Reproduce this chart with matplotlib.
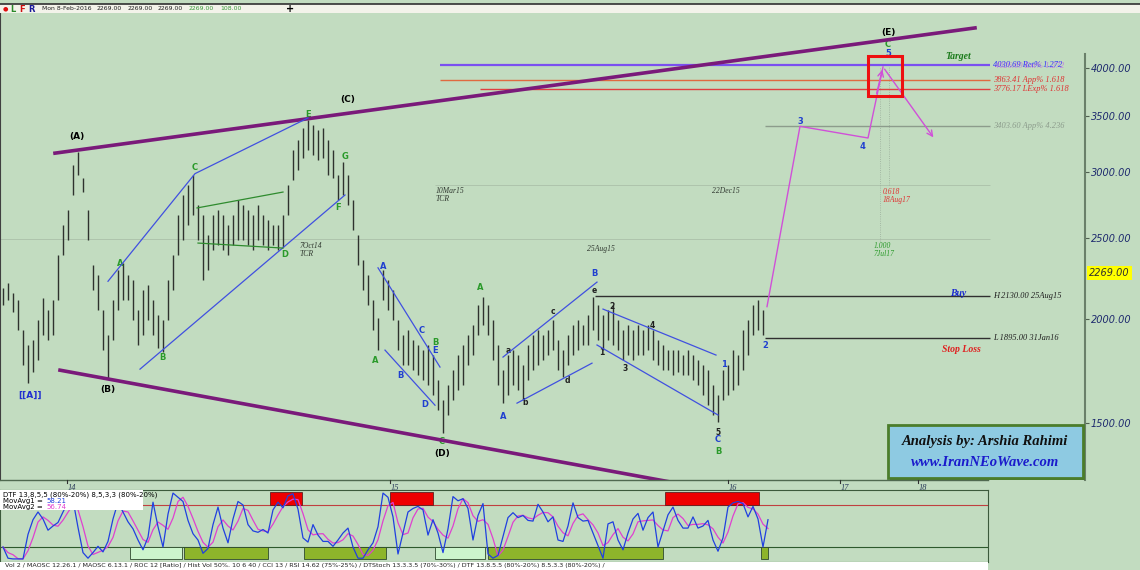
import numpy as np
import pandas as pd
import matplotlib
matplotlib.use('Agg')
import matplotlib.pyplot as plt
from matplotlib.patches import Rectangle
from matplotlib.lines import Line2D
from matplotlib.ticker import NullLocator

# DAILY BARS (high / low), oldest first
highs = [2177, 2207, 2150, 2106, 1938, 1860, 1885, 1993, 2118, 2048,
         2106, 2385, 2591, 2700, 3058, 3170, 2950, 2700, 2320, 2256,
         2048, 1912, 2106, 2288, 2332, 2256, 2225, 2048, 2165, 2195,
         2106, 2020, 1993, 2225, 2385, 2663, 2815, 2894, 2975, 2738,
         2663, 2520, 2663, 2700, 2663, 2591, 2663, 2776, 2738, 2700,
         2663, 2738, 2663, 2627, 2591, 2591, 2663, 2894, 3188, 3277,
         3387, 3463, 3416, 3369, 3387, 3277, 3188, 2975, 3084, 2975,
         2776, 2520, 2352, 2256, 2106, 2003, 2288, 2225, 2165, 1993,
         1912, 1938, 1885, 1860, 1834, 1860, 1809, 1688, 1597, 1665,
         1735, 1809, 1860, 1912, 1965, 2077, 2123, 2077, 1993, 1860,
         1735, 1809, 1834, 1809, 1760, 1860, 1912, 1938, 1912, 1938,
         1993, 1885, 1834, 1912, 1965, 1993, 1965, 2020, 2123, 2077,
         2020, 2048, 2077, 1993, 1938, 1965, 1938, 1965, 1938, 1965,
         1938, 1885, 1860, 1834, 1834, 1834, 1809, 1834, 1809, 1784,
         1760, 1735, 1665, 1620, 1735, 1760, 1834, 1809, 1938, 1993,
         2077, 2106, 2048, 2269]
lows = [2077, 2106, 2037, 1938, 1760, 1674, 1726, 1784, 1912, 1885,
        1912, 2106, 2385, 2486, 2815, 2975, 2838, 2486, 2165, 2048,
        1834, 1697, 1885, 2048, 2106, 2106, 1993, 1860, 1912, 1993,
        1912, 1844, 1824, 1993, 2165, 2385, 2486, 2591, 2663, 2486,
        2225, 2288, 2418, 2452, 2418, 2385, 2452, 2486, 2486, 2452,
        2418, 2486, 2452, 2418, 2452, 2418, 2438, 2663, 2934, 3016,
        3118, 3188, 3144, 3101, 3118, 2975, 2950, 2776, 2815, 2738,
        2555, 2320, 2165, 2077, 1938, 1834, 2106, 2048, 1993, 1834,
        1760, 1760, 1735, 1712, 1688, 1665, 1620, 1554, 1458, 1533,
        1597, 1642, 1665, 1760, 1809, 1912, 1965, 1912, 1784, 1665,
        1584, 1620, 1665, 1642, 1597, 1688, 1735, 1760, 1784, 1809,
        1834, 1735, 1702, 1760, 1809, 1834, 1860, 1860, 1938, 1885,
        1834, 1885, 1860, 1834, 1784, 1809, 1784, 1809, 1809, 1834,
        1784, 1760, 1735, 1735, 1712, 1726, 1712, 1712, 1688, 1665,
        1620, 1575, 1533, 1503, 1597, 1620, 1642, 1665, 1735, 1809,
        1912, 1938, 1912, 2269]

# DTF oscillator (blue line), one value per bar
osc = [20, 4, 3, 3, 3, 38, 59, 70, 60, 44,
       50, 55, 70, 84, 87, 48, 12, 4, 12, 21,
       13, 28, 60, 84, 70, 56, 46, 30, 16, 34,
       84, 49, 20, 67, 97, 91, 85, 58, 39, 30,
       11, 18, 52, 77, 47, 26, 60, 85, 80, 52,
       43, 41, 45, 40, 73, 84, 76, 93, 96, 74,
       33, 27, 52, 37, 28, 28, 21, 30, 40, 47,
       20, 4, 4, 16, 26, 49, 97, 91, 63, 10,
       40, 70, 75, 78, 73, 37, 59, 40, 12, 46,
       92, 86, 89, 75, 30, 65, 82, 10, 4, 8,
       35, 62, 69, 62, 65, 58, 57, 81, 70, 56,
       63, 30, 28, 50, 83, 62, 57, 58, 40, 22,
       4, 53, 56, 30, 16, 40, 60, 68, 44, 62,
       70, 20, 43, 66, 77, 58, 47, 47, 63, 47,
       50, 58, 30, 14, 33, 77, 83, 85, 82, 63,
       78, 60, 20, 59]

# overbought / oversold zones of the oscillator: (start, end)
red_zones = [(67, 127), (270, 302), (390, 433), (665, 759)]
red_tops = [88.6, 98.6, 98.6, 98.6]
green_zones = [(130, 182), (184, 268), (304, 386), (435, 485), (488, 663), (761, 768)]
green_colors = ['#ccf5cc', '#8db52b', '#8db52b', '#ccf5cc', '#8db52b', '#8db52b']

# wave drawings
upper_tl_x, upper_tl_y = [55, 975], [3160, 4466]
lower_tl_x, lower_tl_y = [60, 700], [1735, 1255]
blue_lines = [([108, 195, 308], [2218, 2986, 3483]),
              ([140, 345], [1740, 2815]),
              ([378, 440], [2302, 1750]),
              ([385, 435], [1834, 1575]),
              ([503, 597], [1799, 2213]),
              ([517, 592], [1584, 1769]),
              ([603, 716], [2054, 1809]),
              ([597, 718], [1860, 1533])]
green_lines = [([197, 283], [2716, 2838]),
               ([198, 283], [2465, 2431])]
proj_x = [767, 800, 868, 883]
proj_y = [2068, 3403, 3295, 4010]
proj_end = (935, 3280)

# price levels: (price, x start, line colour, label, text colour)
levels = [(3863.41, 440, '#e06a40', '3863.41 App% 1.618', '#e03030'),
          (3776.17, 480, '#e04040', '3776.17 LExp% 1.618', '#e03030'),
          (3403.60, 765, '#8c9c8c', '3403.60 App% 4.236', '#8c9c8c'),
          (2130.00, 595, '#303030', 'H 2130.00 25Aug15', '#202020'),
          (1895.00, 765, '#303030', 'L 1895.00 31Jan16', '#202020')]

price_ticks = [1500, 2000, 2500, 3000, 3500, 4000]
year_ticks = [67, 390, 728, 840, 918]
year_labels = ['14', '15', '16', '17', '18']
last_price = 2269.00

green_waves = [('A', 120, 2332), ('B', 162, 1799), ('C', 195, 3033), ('D', 285, 2391),
               ('E', 308, 3520), ('F', 338, 2723), ('G', 345, 3135), ('A', 375, 1784),
               ('B', 435, 1875), ('C', 442, 1424), ('A', 480, 2183), ('B', 718, 1385),
               ('C', 888, 4261)]
blue_waves = [('A', 383, 2313), ('B', 400, 1712), ('C', 422, 1938), ('D', 425, 1580),
              ('E', 435, 1834), ('A', 503, 1528), ('B', 594, 2269), ('1', 724, 1764),
              ('C', 718, 1432), ('2', 765, 1860), ('3', 800, 3453), ('4', 862, 3222),
              ('5', 888, 4167)]
black_waves = [('a', 508, 1834), ('b', 525, 1589), ('c', 553, 2043), ('d', 567, 1684),
               ('e', 594, 2165), ('1', 602, 1824), ('2', 612, 2071), ('3', 625, 1745),
               ('4', 652, 1965), ('5', 718, 1462)]
major_waves = [('(A)', 77, 3305, 'black'), ('[[A]]', 30, 1620, '#2030d0'),
               ('(B)', 108, 1647, 'black'), ('(C)', 348, 3660, 'black'),
               ('(D)', 442, 1380, 'black'), ('(E)', 888, 4416, 'black')]
date_notes = [('7Oct14\nTCR', 300, 2470), ('10Mar15\nTCR', 436, 2880),
              ('25Aug15', 587, 2455), ('22Dec15', 712, 2880)]

toolbar_values = ['2269.00', '2269.00', '2269.00', '2269.00', '108.00']
toolbar_x = [97, 128, 158, 189, 220]
toolbar_colors = ['#202020', '#202020', '#202020', '#3a9a3a', '#3a9a3a']

BG = '#c2dcc0'
W, H = 1140, 570


def fy(py):
    return 1 - py / H


fig = plt.figure(figsize=(11.4, 5.7), dpi=100, facecolor=BG)
serif = 'Liberation Serif'

# MAIN PRICE PANEL
ax = fig.add_axes([0, fy(480), 1085 / W, (480 - 13) / H])
ax.set_facecolor(BG)
ax.set_xlim(0, 1085)
ax.set_yscale('log')
ax.set_ylim(1281, 4654)
for s in ['top', 'bottom']:
    ax.spines[s].set_visible(False)
ax.spines['left'].set_color('#404040')
ax.spines['right'].set_color('#6a806a')
ax.spines['right'].set_linewidth(1.5)
ax.spines['right'].set_bounds(1281, 4155)
ax.set_xticks([])
ax.yaxis.tick_right()
ax.set_yticks(price_ticks)
ax.set_yticklabels([f'{t:.2f}' for t in price_ticks])
ax.yaxis.set_minor_locator(NullLocator())
ax.tick_params(axis='y', direction='out', length=3, color='#506050',
               labelsize=7, labelcolor='#1e2a6e', pad=1)
for lab in ax.get_yticklabels():
    lab.set_fontstyle('italic')

bar_x = 3 + 5 * np.arange(len(highs))
ax.vlines(bar_x, lows, highs, color='#2e322e', lw=1.0, zorder=3)

# faint reference lines and fib timings
ax.hlines(2894, 435, 990, color='#aec4ac', lw=0.7, zorder=1)
ax.hlines(2493, 0, 990, color='#aec4ac', lw=0.7, zorder=1)
ax.vlines(880, 2480, 4010, color='#9aac9a', lw=0.6, ls=':', zorder=1)
ax.vlines(889, 2890, 4010, color='#9aac9a', lw=0.6, ls=':', zorder=1)
ax.text(883, 2870, '0.618\n18Aug17', color='#e03030', fontsize=5.5, family=serif,
        style='italic', va='top', linespacing=1.0)
ax.text(874, 2470, '1.000\n7Jul17', color='#2a9a2a', fontsize=5.5, family=serif,
        style='italic', va='top', linespacing=1.0)

# trend lines
ax.plot(upper_tl_x, upper_tl_y, color='#7a1a7a', lw=2.6, zorder=4)
ax.plot(lower_tl_x, lower_tl_y, color='#7a1a7a', lw=2.6, zorder=4)
for xs, ys in blue_lines:
    ax.plot(xs, ys, color='#4050e0', lw=0.9, zorder=4)
for xs, ys in green_lines:
    ax.plot(xs, ys, color='#2e8b2e', lw=0.9, zorder=4)

# levels
ax.hlines(4030.69, 440, 990, color='#7a50f0', lw=1.6, zorder=2)
ax.text(993, 4030.69, '4030.69 Ret% 1.272', color='#3030ff', fontsize=6,
        family=serif, style='italic', va='center')
ax.text(995, 4020, '4026.69 Ext% 1.272', color='#c040f0', fontsize=6,
        family=serif, style='italic', va='center', alpha=0.6)
for price, x0, lc, label, tc in levels:
    ax.hlines(price, x0, 990, color=lc, lw=1.0, zorder=2)
    ax.text(993, price, label, color=tc, fontsize=6, family=serif,
            style='italic', va='center')

ax.text(945, 4122, 'Target', color='#1a7a1a', fontsize=7, family=serif,
        style='italic', weight='bold', va='center')
ax.text(950, 2143, 'Buy', color='#1a2ad0', fontsize=7, family=serif,
        style='italic', weight='bold', va='center')
ax.text(942, 1839, 'Stop Loss', color='#e02020', fontsize=7, family=serif,
        style='italic', weight='bold', va='center')

# projected path
ax.plot(proj_x, proj_y, color='#d050d8', lw=1.0, zorder=5)
ax.annotate('', xy=(proj_x[-1], proj_y[-1]), xytext=(proj_x[-2] + 8, 3700),
            arrowprops=dict(arrowstyle='->', color='#d050d8', lw=1.0), zorder=5)
ax.annotate('', xy=proj_end, xytext=(proj_x[-1], proj_y[-1]),
            arrowprops=dict(arrowstyle='->', color='#d050d8', lw=1.0), zorder=5)
ax.add_patch(Rectangle((868, 3701), 34, 4133 - 3701, fill=False,
                       ec='#ee1010', lw=2.2, zorder=6))

# wave labels
for t, x, y in green_waves:
    ax.text(x, y, t, color='#2a9a2a', fontsize=6, weight='bold', ha='center', va='center')
for t, x, y in blue_waves:
    ax.text(x, y, t, color='#2040d0', fontsize=6, weight='bold', ha='center', va='center')
for t, x, y in black_waves:
    ax.text(x, y, t, color='#202020', fontsize=5.5, weight='bold', ha='center', va='center')
for t, x, y, c in major_waves:
    ax.text(x, y, t, color=c, fontsize=6.5, weight='bold', ha='center', va='center')
for t, x, y in date_notes:
    ax.text(x, y, t, color='#303830', fontsize=5.5, family=serif, style='italic',
            va='top', linespacing=1.0)

# last price box
ax.annotate(f'{last_price:.2f}', xy=(1.0, last_price), xycoords=('axes fraction', 'data'),
            xytext=(3, 0), textcoords='offset points', fontsize=7, style='italic',
            color='#303030', va='center', ha='left',
            bbox=dict(boxstyle='square,pad=0.25', fc='#ffff00', ec='none'),
            annotation_clip=False)

# year labels under the price panel
fig.add_artist(Line2D([0, 988 / W], [fy(480), fy(480)], color='#506a50', lw=1.0))
for x, lab in zip(year_ticks, year_labels):
    fig.add_artist(Line2D([x / W, x / W], [fy(480), fy(483)], color='#303030', lw=0.8))
    fig.text((x + 1) / W, fy(488), lab, fontsize=6, family=serif, style='italic',
             color='#2a3a5a', va='center')

# INDICATOR PANEL
ax2 = fig.add_axes([0, fy(562), 988 / W, (562 - 490) / H])
ax2.set_facecolor(BG)
ax2.set_xlim(0, 988)
ax2.set_ylim(-1.4, 101.4)
ax2.set_xticks([])
ax2.set_yticks([])
for s in ax2.spines.values():
    s.set_color('#3c5a3c')
ax2.axhline(80, color='#c04040', lw=0.8, zorder=1)
ax2.axhline(20, color='#2d5a2d', lw=0.8, zorder=1)
for (x0, x1), top in zip(red_zones, red_tops):
    ax2.add_patch(Rectangle((x0, 80), x1 - x0, top - 80, fc='#ee0000', ec='#602020',
                            lw=0.6, zorder=2))
for (x0, x1), c in zip(green_zones, green_colors):
    ax2.add_patch(Rectangle((x0, 2.9), x1 - x0, 20 - 2.9, fc=c, ec='#2e4a2e',
                            lw=0.6, zorder=2))
osc_avg = pd.Series(osc).rolling(3, min_periods=1).mean()
ax2.plot(bar_x, osc_avg, color='#e040d0', lw=0.9, zorder=3)
ax2.plot(bar_x, osc, color='#2040e0', lw=0.9, zorder=4)
ax2.add_patch(Rectangle((0, 72.9), 143, 28.5, fc='white', ec='none', zorder=5))
ax2.text(3, 99, 'DTF 13,8,5,5 (80%-20%) 8,5,3,3 (80%-20%)', fontsize=5, va='top', zorder=6)
ax2.text(3, 90, 'MovAvg1 =', fontsize=5, va='top', zorder=6)
ax2.text(46, 90, '58.21', fontsize=5, va='top', color='#2040e0', zorder=6)
ax2.text(3, 81.5, 'MovAvg2 =', fontsize=5, va='top', zorder=6)
ax2.text(46, 81.5, '56.74', fontsize=5, va='top', color='#e040d0', zorder=6)

# STATUS BAR AND TOOLBAR
fig.add_artist(Rectangle((0, 0), 988 / W, 8 / H, transform=fig.transFigure,
                         fc='white', ec='none'))
fig.text(3 / W, fy(566), ' Vol 2 / MAOSC 12.26.1 / MAOSC 6.13.1 / ROC 12 [Ratio] / '
         'Hist Vol 50%. 10 6 40 / CCI 13 / RSI 14.62 (75%-25%) / DTStoch 13.3.3.5 (70%-30%) / '
         'DTF 13.8.5.5 (80%-20%) 8.5.3.3 (80%-20%) /', fontsize=4.6, va='center', color='#202020')

fig.add_artist(Rectangle((0, fy(13)), 1, 9 / H, transform=fig.transFigure,
                         fc='#f3f3ea', ec='none'))
fig.add_artist(Line2D([0, 1], [fy(3.5), fy(3.5)], color='#303030', lw=1.2))
fig.text(3 / W, fy(9), '●', color='#e01010', fontsize=4.5, va='center')
fig.text(10 / W, fy(9), 'L', color='#2a8a2a', fontsize=6, weight='bold', va='center')
fig.text(19 / W, fy(9), 'F', color='#d01010', fontsize=6, weight='bold', va='center')
fig.text(28 / W, fy(9), 'R', color='#1a1a9a', fontsize=6, weight='bold', va='center')
fig.text(42 / W, fy(9), 'Mon 8-Feb-2016', fontsize=4.4, va='center', color='#202020')
for x, v, c in zip(toolbar_x, toolbar_values, toolbar_colors):
    fig.text(x / W, fy(9), v, fontsize=4.4, va='center', color=c)
fig.text(286 / W, fy(9), '+', fontsize=7, weight='bold', va='center')

# LOGO BOX
fig.add_artist(Rectangle((890 / W, fy(480)), 195 / W, 53 / H, transform=fig.transFigure,
                         fc='#5a7a4a', ec='none'))
fig.add_artist(Rectangle((888 / W, fy(478)), 195 / W, 53 / H, transform=fig.transFigure,
                         fc='#8ecae2', ec='#4b7d2b', lw=2))
fig.text(985 / W, fy(441), 'Analysis by: Arshia Rahimi', fontsize=10.5, family=serif,
         style='italic', weight='bold', ha='center', va='center', color='#101010')
fig.text(985 / W, fy(462), 'www.IranNEoWave.com', fontsize=10.5, family=serif,
         style='italic', weight='bold', ha='center', va='center', color='#1a1acc')

fig.savefig('out.png', dpi=100, facecolor=BG)
